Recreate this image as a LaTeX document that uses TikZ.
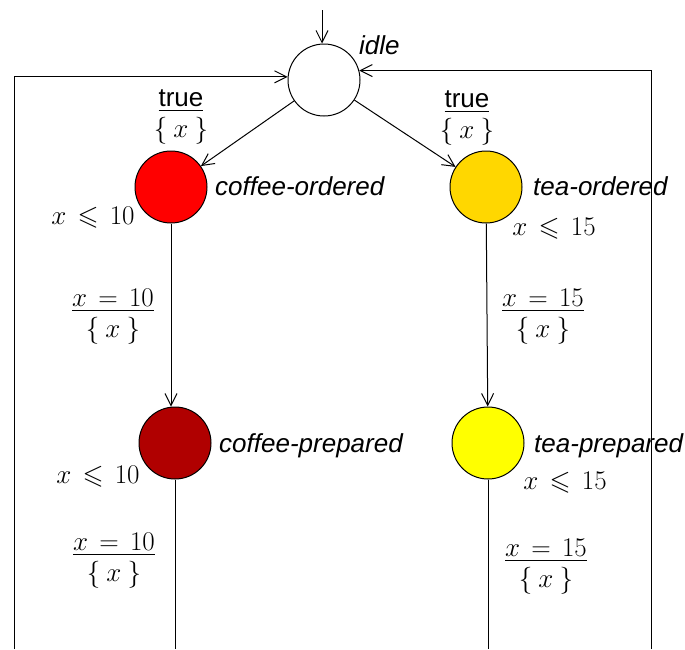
\RequirePackage{fix-cm}
\documentclass[tikz,border=0pt]{standalone}
\usepackage[no-math]{fontspec}
\usepackage{amssymb}
\newfontfamily\lsans{Liberation Sans}
\usetikzlibrary{arrows.meta}
\definecolor{cored}{RGB}{255,0,0}
\definecolor{teaord}{RGB}{255,215,0}
\definecolor{coprep}{RGB}{176,0,0}
\definecolor{teaprep}{RGB}{255,255,0}
\newcommand{\grd}[2]{\begin{tabular}{@{}c@{}}\underline{#1}\\ #2\end{tabular}}
\newcommand{\truetxt}{{\fontsize{26}{31}\selectfont\lsans true}}
\newcommand{\rsp}{\mskip 2.5mu}
\newcommand{\rst}{$\{\:x\:\}$}
\begin{document}
\begin{tikzpicture}[x=1pt,y=-1pt,
  loc/.style={circle,draw,line width=1pt,minimum size=72pt,inner sep=0pt},
  lname/.style={font=\fontsize{26}{31}\selectfont\lsans\itshape,inner sep=0pt,anchor=west},
  lbl/.style={font=\fontsize{27}{31}\selectfont,inner sep=0pt},
  edge/.style={line width=1pt,-{Straight Barb[length=12pt,width=12pt]}},
  wire/.style={line width=1pt}]
\useasboundingbox (0,0) rectangle (685,649);
% locations
\node[loc,fill=white]   (idle) at (324,80) {};
\node[loc,fill=cored]   (co)   at (171,187) {};
\node[loc,fill=teaord]  (to)   at (486,187) {};
\node[loc,fill=coprep]  (cp)   at (175,443) {};
\node[loc,fill=teaprep] (tp)   at (488,443) {};
% names
\node[lname] (nidle) at (359,45)  {idle};
\node[lname] (nco)   at (215,186) {coffee-ordered};
\node[lname] (nto)   at (533,186) {tea-ordered};
\node[lname] (ncp)   at (219,446) {coffee-prepared};
\node[lname] (ntp)   at (534,446) {tea-prepared};
% invariants
\node[lbl] (ico) at (93,218)  {$x\rsp\leqslant\rsp 10$};
\node[lbl] (ito) at (554,229) {$x\rsp\leqslant\rsp 15$};
\node[lbl] (icp) at (98,477)  {$x\rsp\leqslant\rsp 10$};
\node[lbl] (itp) at (565,483) {$x\rsp\leqslant\rsp 15$};
% guards
\node[lbl] (g1) at (181,116) {\grd{\truetxt}{\rst}};
\node[lbl] (g2) at (467,117) {\grd{\truetxt}{\rst}};
\node[lbl] (g3) at (113,316) {\grd{$x\rsp=\rsp 10$}{\rst}};
\node[lbl] (g4) at (543,316) {\grd{$x\rsp=\rsp 15$}{\rst}};
\node[lbl] (g5) at (114,560) {\grd{$x\rsp=\rsp 10$}{\rst}};
\node[lbl] (g6) at (546,566) {\grd{$x\rsp=\rsp 15$}{\rst}};
% coordinates
\coordinate (init) at (322,10);
\coordinate (bot) at (0,649);
\coordinate (Lb) at (14,649);
\coordinate (Rb) at (651,649);
% connectors
\draw[edge] (init) -- (init |- idle.north);
\draw[edge] (idle) -- (co);
\draw[edge] (idle) -- (to);
\draw[edge] (co.south) -- (co.south |- cp.north);
\draw[edge] (to) -- (tp);
\draw[wire] (cp.south) -- (cp.south |- bot);
\draw[wire] (tp.south) -- (tp.south |- bot);
\draw[edge] (Lb) |- (idle.175);
\draw[edge] (Rb) |- (idle.15);
\end{tikzpicture}
\end{document}
